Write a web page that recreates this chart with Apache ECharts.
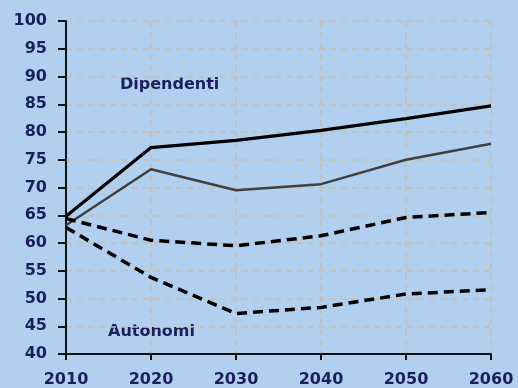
<!DOCTYPE html>
<html><head><meta charset="utf-8">
<script src="https://cdn.jsdelivr.net/npm/echarts@6/dist/echarts.min.js"></script>
<style>html,body{margin:0;padding:0;background:#b1cfee;}#c{width:518px;height:388px;}</style>
</head><body><div id="c"></div>
<script>
const years = ['2010','2020','2030','2040','2050','2060'];
const dipendentiA = [64.8, 77.2, 78.5, 80.3, 82.4, 84.7];
const dipendentiB = [63.2, 73.3, 69.5, 70.6, 75.0, 77.9];
const autonomiA = [64.4, 60.5, 59.5, 61.3, 64.6, 65.5];
const autonomiB = [62.8, 53.8, 47.3, 48.4, 50.8, 51.6];
const labelDip = 'Dipendenti';
const labelAut = 'Autonomi';

const chart = echarts.init(document.getElementById('c'));
const txt = '#1b1f5e';
const gridCol = '#cbbfae';
const fam = '"DejaVu Sans"';
chart.setOption({
  backgroundColor: '#b1cfee',
  animation: false,
  grid: {left: 66, right: 27, top: 21, bottom: 32},
  xAxis: {
    type: 'category', data: years, boundaryGap: false,
    axisLine: {lineStyle: {color: '#111', width: 2}},
    axisTick: {show: true, length: 6, lineStyle: {color: '#111', width: 2}},
    axisLabel: {color: txt, fontSize: 16, fontWeight: 'bold', fontFamily: 'DejaVu Sans', margin: 18},
    splitLine: {show: true, lineStyle: {color: gridCol, type: [6, 5], width: 1.5}}
  },
  yAxis: {
    type: 'value', min: 40, max: 100, interval: 5,
    axisLine: {show: true, lineStyle: {color: '#111', width: 2}},
    axisTick: {show: true, length: 8, lineStyle: {color: '#111', width: 2}},
    axisLabel: {color: txt, fontSize: 16, fontWeight: 'bold', fontFamily: 'DejaVu Sans', margin: 19},
    splitLine: {show: true, lineStyle: {color: gridCol, type: [6, 5], width: 1.5}}
  },
  series: [
    {type: 'line', data: dipendentiA, symbol: 'none', lineStyle: {color: '#000', width: 3.2}},
    {type: 'line', data: dipendentiB, symbol: 'none', lineStyle: {color: '#404040', width: 2.5}},
    {type: 'line', data: autonomiA, symbol: 'none', lineStyle: {color: '#000', width: 3.5, type: [10, 6]}},
    {type: 'line', data: autonomiB, symbol: 'none', lineStyle: {color: '#000', width: 3.5, type: [10, 6]}}
  ],
  graphic: [
    {type: 'text', left: 120, top: 77, style: {text: labelDip, fill: txt, font: 'bold 16px ' + fam}},
    {type: 'text', left: 108, top: 324, style: {text: labelAut, fill: txt, font: 'bold 16px ' + fam}}
  ]
});
</script></body></html>
